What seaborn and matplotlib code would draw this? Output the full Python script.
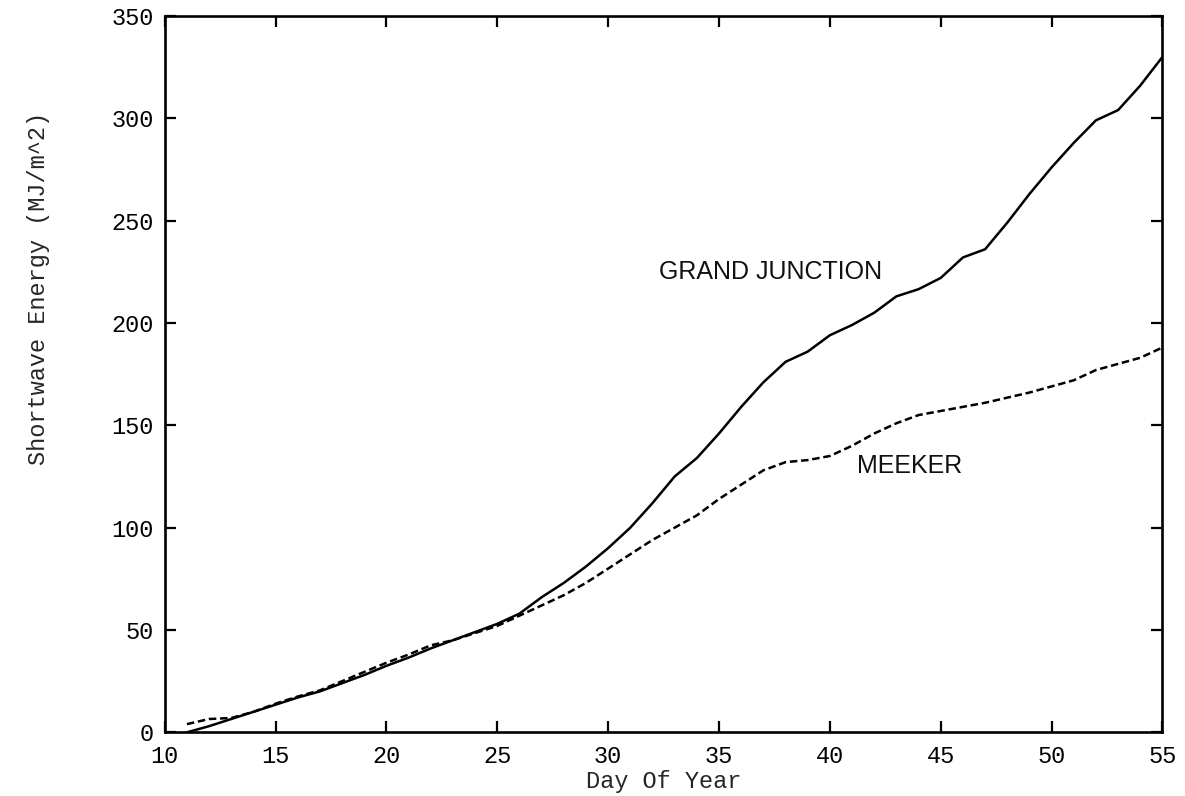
import matplotlib
matplotlib.use("Agg")
import matplotlib.pyplot as plt
import pandas as pd
import seaborn as sns

# ---- data ----
days = list(range(11, 56))
grand_junction = [0, 3, 6.5, 10, 13.5, 17, 20, 24, 28, 32.5,
                  36.5, 41, 45, 49, 53, 58, 66, 73, 81, 90,
                  100, 112, 125, 134, 146, 159, 171, 181, 186, 194,
                  199, 205, 213, 216.5, 222, 232, 236, 249, 263, 276,
                  288, 299, 304, 316, 330]
meeker = [4, 6.5, 7, 10, 14, 17.5, 20.5, 25, 29.5, 34,
          38, 42.5, 45, 48.5, 52, 57, 62, 67, 73, 80,
          87, 94, 100, 106, 114, 121, 128, 132, 133, 135,
          140, 146, 151, 155, 157, 159, 161, 163.5, 166, 169,
          172, 177, 180, 183, 188]
x_ticks = [10, 15, 20, 25, 30, 35, 40, 45, 50, 55]
y_ticks = [0, 50, 100, 150, 200, 250, 300, 350]
series_labels = ["GRAND JUNCTION", "MEEKER"]
label_pos = [(32.3, 225), (41.2, 130)]

sns.set_theme(style="ticks")
plt.rcParams['font.family'] = ['Liberation Mono', 'DejaVu Sans Mono']

fig = plt.figure(figsize=(11.85, 7.96), dpi=100)
ax = fig.add_axes([0.139, 0.080, 0.842, 0.900])

df_gj = pd.DataFrame({"day": days, "energy": grand_junction})
df_mk = pd.DataFrame({"day": days, "energy": meeker})

sns.lineplot(data=df_gj, x="day", y="energy", color="black", linewidth=1.8,
             ax=ax, legend=False)
sns.lineplot(data=df_mk, x="day", y="energy", color="black", linewidth=1.8,
             linestyle=(0, (3, 1.5)), ax=ax, legend=False)

for (lx, ly), txt in zip(label_pos, series_labels):
    ax.text(lx, ly, txt, fontsize=18, family=['Liberation Sans', 'DejaVu Sans'],
            va="center", ha="left", color="#111111")

ax.set_xlim(10, 55)
ax.set_ylim(0, 350)
ax.set_xticks(x_ticks)
ax.set_yticks(y_ticks)
ax.set_xticklabels([str(v) for v in x_ticks])
ax.set_yticklabels([str(v) for v in y_ticks])

for sp in ax.spines.values():
    sp.set_visible(True)
    sp.set_linewidth(1.9)
    sp.set_color("black")

ax.tick_params(axis="both", which="major", direction="in", length=8, width=1.6,
               top=True, right=True, labelsize=17, colors="black")
ax.tick_params(axis="x", pad=9)
ax.tick_params(axis="y", pad=8)

ax.set_xlabel("Day Of Year", fontsize=17)
ax.set_ylabel("Shortwave Energy (MJ/m^2)", fontsize=17)
ax.xaxis.set_label_coords(0.5, -0.052)
ax.yaxis.set_label_coords(-0.115, 0.62)

fig.savefig("out.png", dpi=100, facecolor="white")
